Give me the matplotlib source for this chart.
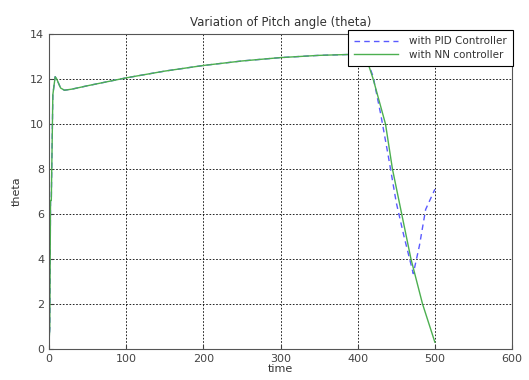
import matplotlib
matplotlib.use("Agg")
import matplotlib.pyplot as plt

# NN controller response
tNN = [0, 1, 2, 3, 5, 8, 10, 15, 20, 30, 50, 100, 150, 200, 250, 300, 350, 400, 410,
       420, 428, 436, 445, 457, 469, 484, 500]
thetaNN = [0.3, 0.9, 6.6, 6.6, 11.3, 12.1, 12.0, 11.6, 11.5, 11.55, 11.7, 12.05, 12.35,
           12.6, 12.8, 12.95, 13.05, 13.1, 13.05, 12.0, 11.0, 10.0, 8.0, 6.0, 4.0, 2.0, 0.3]

# PID controller response
tPID = [0, 1, 2, 3, 5, 8, 10, 15, 20, 30, 50, 100, 150, 200, 250, 300, 350, 400, 410,
        420, 430, 440, 450, 460, 472, 480, 488, 500]
thetaPID = [0.3, 0.9, 6.6, 6.6, 11.3, 12.1, 12.0, 11.6, 11.5, 11.55, 11.7, 12.05, 12.35,
            12.6, 12.8, 12.95, 13.05, 13.1, 13.05, 12.1, 10.4, 8.5, 6.5, 5.0, 3.35, 4.6, 6.2, 7.1]

xTicks = [0, 100, 200, 300, 400, 500, 600]
yTicks = [0, 2, 4, 6, 8, 10, 12, 14]

fig = plt.figure(figsize=(5.29, 3.80), dpi=100)
ax = fig.add_axes([0.0926, 0.0816, 0.8754, 0.829])

ax.plot(tPID, thetaPID, color='#5a5aff', linestyle=(0, (4, 3)), linewidth=1.0,
        label='with PID Controller')
ax.plot(tNN, thetaNN, color='#4caf50', linewidth=1.0, label='with NN controller')

ax.set_xlim(0, 600)
ax.set_ylim(0, 14)
ax.set_xticks(xTicks)
ax.set_yticks(yTicks)
ax.tick_params(direction='in', labelsize=8, colors='#444444', length=3)
ax.grid(True, color='black', linestyle=(0, (2, 2)), linewidth=0.6)
for s in ax.spines.values():
    s.set_color('#555555')

ax.set_title('Variation of Pitch angle (theta)', fontsize=8.5, color='#333333', pad=6)
ax.set_xlabel('time', fontsize=8, color='#333333', labelpad=0)
ax.set_ylabel('theta', fontsize=8, color='#333333', labelpad=6)

leg = ax.legend(loc='upper right', bbox_to_anchor=(1.003, 1.012), fontsize=7.5, fancybox=False,
                framealpha=1, edgecolor='black', borderpad=0.6, labelspacing=0.3,
                handlelength=4.2, handletextpad=1.1, borderaxespad=0)
leg.get_frame().set_linewidth(0.8)
for t in leg.get_texts():
    t.set_color('#333333')

fig.savefig('out.png', dpi=100)
